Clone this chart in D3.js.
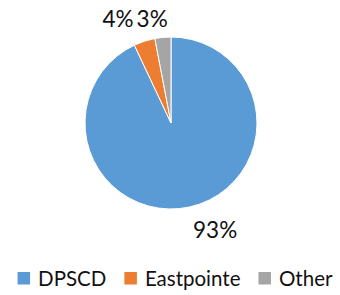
<!DOCTYPE html>
<html><head><meta charset="utf-8">
<script src="https://cdn.jsdelivr.net/npm/d3@7"></script>
<style>
html,body{margin:0;padding:0;background:#fff;}
svg{display:block;font-family:Lato, "Open Sans", sans-serif;}
</style></head>
<body>
<svg id="chart" width="340" height="295"></svg>
<script>
const categories = ["DPSCD", "Eastpointe", "Other"];
const values = [93, 4, 3];
const labels = ["93%", "4%", "3%"];
const colors = ["#5B9BD5", "#ED7D31", "#A5A5A5"];

const W = 340, H = 295;
const cx = 171, cy = 123, R = 86;
const svg = d3.select("#chart");
const data = categories.map((c, i) => ({cat: c, value: values[i], label: labels[i], color: colors[i]}));

const pie = d3.pie().value(d => d.value).sort(null);
const arcs = pie(data);
const arc = d3.arc().innerRadius(0).outerRadius(R);

const g = svg.append("g").attr("transform", `translate(${cx},${cy})`);
g.selectAll("path").data(arcs).join("path")
  .attr("d", arc)
  .attr("fill", d => d.data.color)
  .attr("stroke", "#fff")
  .attr("stroke-width", 1);

// labels: outside end, box corner touching the radial point
const LR = 101, fs = 22.5, cap = fs * 0.72;
const boxes = arcs.map(a => {
  const m = (a.startAngle + a.endAngle) / 2;
  const px = LR * Math.sin(m), py = -LR * Math.cos(m);
  const t = g.append("text").text(a.data.label).attr("font-size", fs).attr("fill", "#111");
  const w = t.node().getComputedTextLength();
  const x0 = Math.sin(m) >= 0 ? px : px - w;
  const base = Math.cos(m) >= 0 ? py : py + cap;
  return {t, x0, w, base};
});
// resolve overlaps among labels
for (let iter = 0; iter < 5; iter++) {
  for (let i = 0; i < boxes.length; i++) for (let j = i + 1; j < boxes.length; j++) {
    const a = boxes[i], b = boxes[j];
    if (Math.abs(a.base - b.base) < cap + 4) {
      const [l, r] = a.x0 < b.x0 ? [a, b] : [b, a];
      const ov = (l.x0 + l.w + 3) - r.x0;
      if (ov > 0) { l.x0 -= ov / 2; r.x0 += ov / 2; const mb = Math.max(a.base, b.base); a.base = mb; b.base = mb; }
    }
  }
}
boxes.forEach(b => b.t.attr("x", b.x0).attr("y", b.base));

// legend
const lfs = 20.5, sq = 12.5, gapT = 8, gapI = 18, legCx = 175, legBase = 286;
const leg = svg.append("g");
const items = data.map(d => {
  const it = leg.append("g");
  it.append("rect").attr("width", sq).attr("height", sq).attr("fill", d.color);
  const t = it.append("text").text(d.cat).attr("font-size", lfs).attr("fill", "#111");
  const w = t.node().getComputedTextLength();
  return {it, t, w: sq + gapT + w};
});
const total = d3.sum(items, d => d.w) + gapI * (items.length - 1);
let x = legCx - total / 2;
items.forEach(d => {
  d.it.select("rect").attr("x", x).attr("y", legBase - 14);
  d.t.attr("x", x + sq + gapT).attr("y", legBase);
  x += d.w + gapI;
});
</script>
</body></html>
